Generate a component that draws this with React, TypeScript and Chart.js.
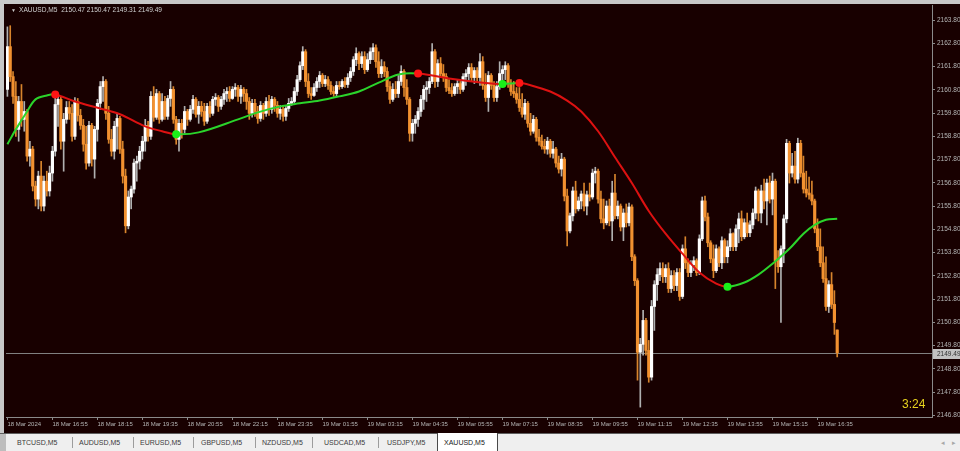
import React, { useEffect, useRef } from 'react';
import { Chart, registerables } from 'chart.js';

Chart.register(...registerables);

// ---------- DATA ----------
const opens = [
  2160.82, 2162.66, 2161.37, 2160.52, 2159.10, 2160.30, 2159.53, 2159.87, 2157.95, 2158.25,
  2156.66, 2156.10, 2157.09, 2155.80, 2156.87, 2156.45, 2157.22, 2158.16, 2160.17, 2160.39,
  2158.59, 2159.53, 2160.04, 2159.79, 2158.80, 2160.30, 2159.70, 2159.27, 2158.46, 2157.65,
  2159.27, 2157.82, 2159.10, 2160.22, 2160.94, 2161.16, 2159.79, 2158.67, 2158.16, 2159.23,
  2159.57, 2158.25, 2157.09, 2154.95, 2156.19, 2156.53, 2157.65, 2157.73, 2158.16, 2158.59,
  2159.27, 2158.80, 2160.52, 2159.62, 2160.64, 2159.53, 2160.30, 2159.66, 2160.43, 2160.82,
  2159.53, 2158.67, 2159.36, 2159.10, 2159.87, 2159.53, 2159.96, 2160.39, 2159.75, 2160.09,
  2159.87, 2159.45, 2160.09, 2159.79, 2160.39, 2160.47, 2160.09, 2160.39, 2160.64, 2160.73,
  2160.43, 2160.82, 2160.90, 2160.52, 2160.82, 2160.64, 2160.30, 2159.79, 2160.22, 2159.87,
  2159.57, 2160.13, 2159.79, 2160.30, 2159.96, 2160.39, 2160.13, 2159.79, 2159.96, 2159.66,
  2160.00, 2160.22, 2160.30, 2160.73, 2161.24, 2161.84, 2162.44, 2161.16, 2160.64, 2160.56,
  2160.90, 2161.16, 2161.42, 2161.07, 2161.24, 2160.99, 2160.73, 2160.64, 2160.99, 2160.94,
  2161.16, 2161.03, 2161.33, 2161.59, 2162.10, 2162.36, 2161.93, 2162.23, 2161.67, 2162.10,
  2162.44, 2162.61, 2162.01, 2161.50, 2161.80, 2161.59, 2160.94, 2160.39, 2160.82, 2160.64,
  2161.16, 2161.59, 2160.90, 2160.39, 2158.93, 2159.36, 2159.53, 2159.87, 2160.39, 2160.82,
  2160.90, 2161.16, 2162.44, 2161.16, 2161.93, 2161.50, 2161.37, 2160.90, 2160.77, 2160.64,
  2160.94, 2161.07, 2160.82, 2161.37, 2161.50, 2161.76, 2161.33, 2161.63, 2161.33, 2162.01,
  2160.99, 2160.47, 2161.42, 2160.99, 2160.47, 2160.94, 2161.50, 2161.67, 2161.84, 2161.07,
  2160.73, 2160.64, 2160.39, 2160.04, 2159.75, 2160.22, 2159.36, 2159.02, 2159.53, 2158.76,
  2158.59, 2158.37, 2158.25, 2158.59, 2158.07, 2158.25, 2157.65, 2157.39, 2157.82, 2156.23,
  2154.73, 2155.38, 2156.45, 2155.68, 2156.02, 2156.32, 2155.80, 2156.28, 2156.19, 2157.22,
  2157.30, 2156.10, 2155.25, 2155.08, 2155.80, 2155.16, 2156.36, 2155.38, 2155.80, 2154.90,
  2155.50, 2155.08, 2155.76, 2153.62, 2152.59, 2149.51, 2149.85, 2150.88, 2149.59, 2148.44,
  2151.48, 2152.42, 2152.85, 2153.11, 2152.76, 2153.11, 2152.25, 2152.81, 2152.38, 2152.94,
  2151.91, 2153.96, 2153.36, 2152.94, 2153.28, 2153.45, 2152.94, 2154.39, 2156.02, 2155.33,
  2154.22, 2153.53, 2153.02, 2153.96, 2153.36, 2154.31, 2153.62, 2154.05, 2154.61, 2154.05,
  2154.82, 2155.25, 2154.48, 2155.08, 2154.65, 2154.99, 2155.50, 2156.45, 2155.50, 2156.45,
  2156.02, 2156.79, 2156.10, 2156.87, 2153.45, 2153.19, 2153.96, 2155.25, 2158.50, 2157.22,
  2157.52, 2156.96, 2158.50, 2157.22, 2156.53, 2156.36, 2156.28, 2156.02, 2154.82, 2154.05,
  2153.36, 2152.68, 2151.48, 2152.42, 2151.57, 2150.47,
];

const highs = [
  2163.51, 2163.56, 2161.59, 2161.16, 2160.52, 2161.03, 2160.30, 2159.96, 2158.59, 2158.37,
  2156.87, 2157.30, 2157.73, 2157.09, 2157.30, 2157.52, 2158.37, 2160.52, 2160.64, 2160.52,
  2159.79, 2160.30, 2160.30, 2160.17, 2160.47, 2160.43, 2159.96, 2159.53, 2159.23, 2159.45,
  2159.36, 2159.23, 2160.39, 2161.16, 2161.37, 2161.24, 2160.09, 2159.10, 2159.45, 2159.79,
  2159.66, 2158.59, 2157.39, 2156.45, 2156.66, 2157.82, 2157.95, 2158.37, 2158.80, 2159.53,
  2159.45, 2160.73, 2160.94, 2160.82, 2160.73, 2160.64, 2160.52, 2160.56, 2161.16, 2160.94,
  2159.66, 2159.53, 2159.53, 2160.09, 2159.96, 2160.13, 2160.56, 2160.47, 2160.30, 2160.30,
  2160.22, 2160.22, 2160.30, 2160.52, 2160.64, 2160.56, 2160.52, 2160.82, 2160.90, 2160.94,
  2160.94, 2161.07, 2160.99, 2160.99, 2160.90, 2160.82, 2160.47, 2160.39, 2160.39, 2160.09,
  2160.30, 2160.22, 2160.47, 2160.56, 2160.52, 2160.47, 2160.30, 2160.13, 2160.13, 2160.13,
  2160.43, 2160.47, 2160.90, 2161.42, 2162.01, 2162.66, 2162.53, 2161.50, 2160.90, 2161.07,
  2161.33, 2161.59, 2161.50, 2161.42, 2161.37, 2161.16, 2160.94, 2161.16, 2161.16, 2161.24,
  2161.33, 2161.50, 2161.76, 2162.23, 2162.61, 2162.44, 2162.44, 2162.44, 2162.36, 2162.61,
  2162.79, 2162.74, 2162.44, 2162.10, 2162.01, 2161.76, 2161.16, 2161.07, 2161.16, 2161.42,
  2161.84, 2161.67, 2161.24, 2160.47, 2159.53, 2159.70, 2160.04, 2160.56, 2160.99, 2161.16,
  2161.33, 2162.79, 2162.53, 2162.10, 2162.19, 2161.89, 2161.50, 2161.24, 2161.07, 2161.07,
  2161.24, 2161.16, 2161.50, 2161.67, 2161.93, 2161.93, 2161.76, 2161.76, 2162.36, 2162.23,
  2161.50, 2161.59, 2161.50, 2161.16, 2161.16, 2162.01, 2161.84, 2162.01, 2161.93, 2161.24,
  2161.16, 2160.90, 2160.90, 2160.64, 2160.39, 2160.30, 2159.79, 2159.70, 2159.62, 2159.10,
  2158.85, 2158.67, 2158.76, 2158.67, 2158.59, 2158.33, 2157.95, 2158.07, 2157.90, 2156.53,
  2155.50, 2156.62, 2156.87, 2156.19, 2156.45, 2156.79, 2156.45, 2156.79, 2157.39, 2157.47,
  2157.39, 2156.45, 2156.10, 2156.02, 2156.10, 2156.87, 2157.17, 2156.02, 2155.89, 2155.68,
  2155.89, 2155.93, 2155.85, 2153.71, 2152.68, 2150.11, 2151.31, 2150.97, 2150.02, 2151.74,
  2152.59, 2153.11, 2153.36, 2153.36, 2153.28, 2153.36, 2153.02, 2153.02, 2153.11, 2153.11,
  2154.13, 2154.48, 2153.53, 2153.45, 2153.62, 2153.53, 2154.56, 2156.19, 2156.23, 2155.50,
  2154.31, 2154.13, 2154.13, 2154.05, 2154.48, 2154.39, 2154.31, 2154.82, 2154.65, 2154.99,
  2155.50, 2155.59, 2155.25, 2155.50, 2155.16, 2155.68, 2156.62, 2156.53, 2156.70, 2156.96,
  2156.96, 2157.09, 2157.22, 2156.96, 2153.88, 2154.09, 2155.42, 2158.67, 2158.59, 2158.07,
  2158.16, 2158.72, 2158.63, 2157.95, 2157.30, 2157.05, 2156.87, 2156.10, 2155.25, 2154.82,
  2154.05, 2153.62, 2152.59, 2152.94, 2152.16, 2150.47,
];

const lows = [
  2160.52, 2161.16, 2160.22, 2158.80, 2158.59, 2159.23, 2159.02, 2157.73, 2157.52, 2156.45,
  2155.80, 2155.68, 2155.59, 2155.59, 2156.23, 2156.23, 2156.87, 2157.95, 2159.23, 2158.25,
  2157.30, 2159.36, 2159.53, 2158.59, 2158.67, 2159.45, 2159.10, 2158.16, 2157.39, 2157.52,
  2157.52, 2157.00, 2158.59, 2159.96, 2160.30, 2159.53, 2158.50, 2157.95, 2157.82, 2158.25,
  2158.07, 2156.79, 2154.65, 2154.82, 2155.68, 2156.36, 2156.87, 2157.39, 2157.82, 2158.16,
  2158.59, 2158.67, 2159.45, 2159.53, 2159.36, 2159.45, 2159.53, 2159.53, 2160.09, 2159.36,
  2158.46, 2158.16, 2158.72, 2158.93, 2159.27, 2159.45, 2159.79, 2159.62, 2159.36, 2159.66,
  2159.27, 2159.36, 2159.62, 2159.70, 2160.13, 2159.87, 2159.96, 2160.17, 2160.30, 2160.30,
  2160.39, 2160.52, 2160.30, 2160.22, 2160.30, 2159.96, 2159.53, 2159.62, 2159.66, 2159.36,
  2159.45, 2159.53, 2159.66, 2159.70, 2159.79, 2159.87, 2159.62, 2159.53, 2159.45, 2159.49,
  2159.87, 2160.13, 2160.22, 2160.56, 2161.16, 2161.67, 2160.94, 2160.47, 2160.39, 2160.52,
  2160.73, 2160.90, 2160.94, 2160.94, 2160.82, 2160.60, 2160.52, 2160.52, 2160.82, 2160.86,
  2160.90, 2160.90, 2161.16, 2161.42, 2161.84, 2161.67, 2161.76, 2161.50, 2161.59, 2161.93,
  2162.10, 2161.76, 2161.33, 2161.33, 2161.37, 2160.73, 2160.22, 2160.30, 2160.47, 2160.47,
  2160.99, 2160.52, 2160.17, 2158.59, 2158.59, 2158.93, 2159.23, 2159.66, 2159.96, 2160.30,
  2160.64, 2161.07, 2160.90, 2160.94, 2161.33, 2161.16, 2160.73, 2160.64, 2160.52, 2160.56,
  2160.64, 2160.64, 2160.73, 2160.99, 2161.16, 2161.16, 2161.07, 2161.16, 2160.99, 2160.82,
  2160.30, 2159.87, 2160.82, 2160.30, 2160.30, 2160.82, 2161.16, 2161.24, 2160.90, 2160.56,
  2160.47, 2160.22, 2159.87, 2159.62, 2159.53, 2159.19, 2158.85, 2158.93, 2158.59, 2158.42,
  2158.25, 2158.07, 2158.03, 2157.90, 2157.86, 2157.47, 2157.22, 2157.09, 2156.02, 2154.09,
  2154.65, 2155.16, 2155.50, 2155.59, 2155.68, 2155.59, 2155.42, 2156.02, 2156.10, 2156.79,
  2155.93, 2155.08, 2154.82, 2154.99, 2154.95, 2154.31, 2155.25, 2155.25, 2154.73, 2154.31,
  2154.90, 2154.95, 2153.45, 2152.38, 2148.31, 2147.15, 2149.38, 2149.38, 2148.22, 2148.31,
  2150.45, 2151.74, 2152.59, 2152.51, 2152.51, 2152.08, 2152.08, 2152.16, 2152.16, 2151.74,
  2151.82, 2153.11, 2152.76, 2152.76, 2153.02, 2152.81, 2152.85, 2154.31, 2155.16, 2154.05,
  2153.36, 2152.72, 2152.94, 2153.19, 2153.11, 2153.36, 2153.36, 2153.88, 2153.88, 2153.88,
  2154.22, 2154.31, 2154.39, 2154.48, 2154.48, 2154.82, 2155.25, 2155.16, 2155.08, 2155.68,
  2154.99, 2155.93, 2155.42, 2152.25, 2152.94, 2150.79, 2153.36, 2155.08, 2156.79, 2157.05,
  2156.79, 2156.79, 2157.05, 2156.36, 2156.19, 2156.10, 2155.85, 2154.65, 2153.88, 2153.19,
  2152.51, 2151.31, 2151.22, 2151.39, 2150.28, 2149.31,
];

const closes = [
  2162.66, 2161.37, 2160.52, 2159.10, 2160.30, 2159.53, 2159.87, 2157.95, 2158.25, 2156.66,
  2156.10, 2157.09, 2155.80, 2156.87, 2156.45, 2157.22, 2158.16, 2160.17, 2160.39, 2158.59,
  2159.53, 2160.04, 2159.79, 2158.80, 2160.30, 2159.70, 2159.27, 2158.46, 2157.65, 2159.27,
  2157.82, 2159.10, 2160.22, 2160.94, 2161.16, 2159.79, 2158.67, 2158.16, 2159.23, 2159.57,
  2158.25, 2157.09, 2154.95, 2156.19, 2156.53, 2157.65, 2157.73, 2158.16, 2158.59, 2159.27,
  2158.80, 2160.52, 2159.62, 2160.64, 2159.53, 2160.30, 2159.66, 2160.43, 2160.82, 2159.53,
  2158.67, 2159.36, 2159.10, 2159.87, 2159.53, 2159.96, 2160.39, 2159.75, 2160.09, 2159.87,
  2159.45, 2160.09, 2159.79, 2160.39, 2160.47, 2160.09, 2160.39, 2160.64, 2160.73, 2160.43,
  2160.82, 2160.90, 2160.52, 2160.82, 2160.64, 2160.30, 2159.79, 2160.22, 2159.87, 2159.57,
  2160.13, 2159.79, 2160.30, 2159.96, 2160.39, 2160.13, 2159.79, 2159.96, 2159.66, 2160.00,
  2160.22, 2160.30, 2160.73, 2161.24, 2161.84, 2162.44, 2161.16, 2160.64, 2160.56, 2160.90,
  2161.16, 2161.42, 2161.07, 2161.24, 2160.99, 2160.73, 2160.64, 2160.99, 2160.94, 2161.16,
  2161.03, 2161.33, 2161.59, 2162.10, 2162.36, 2161.93, 2162.23, 2161.67, 2162.10, 2162.44,
  2162.61, 2162.01, 2161.50, 2161.80, 2161.59, 2160.94, 2160.39, 2160.82, 2160.64, 2161.16,
  2161.59, 2160.90, 2160.39, 2158.93, 2159.36, 2159.53, 2159.87, 2160.39, 2160.82, 2160.90,
  2161.16, 2162.44, 2161.16, 2161.93, 2161.50, 2161.37, 2160.90, 2160.77, 2160.64, 2160.94,
  2161.07, 2160.82, 2161.37, 2161.50, 2161.76, 2161.33, 2161.63, 2161.33, 2162.01, 2160.99,
  2160.47, 2161.42, 2160.99, 2160.47, 2160.94, 2161.50, 2161.67, 2161.84, 2161.07, 2160.73,
  2160.64, 2160.39, 2160.04, 2159.75, 2160.22, 2159.36, 2159.02, 2159.53, 2158.76, 2158.59,
  2158.37, 2158.25, 2158.59, 2158.07, 2158.25, 2157.65, 2157.39, 2157.82, 2156.23, 2154.73,
  2155.38, 2156.45, 2155.68, 2156.02, 2156.32, 2155.80, 2156.28, 2156.19, 2157.22, 2157.30,
  2156.10, 2155.25, 2155.08, 2155.80, 2155.16, 2156.36, 2155.38, 2155.80, 2154.90, 2155.50,
  2155.08, 2155.76, 2153.62, 2152.59, 2149.51, 2149.85, 2150.88, 2149.59, 2148.44, 2151.48,
  2152.42, 2152.85, 2153.11, 2152.76, 2153.11, 2152.25, 2152.81, 2152.38, 2152.94, 2151.91,
  2153.96, 2153.36, 2152.94, 2153.28, 2153.45, 2152.94, 2154.39, 2156.02, 2155.33, 2154.22,
  2153.53, 2153.02, 2153.96, 2153.36, 2154.31, 2153.62, 2154.05, 2154.61, 2154.05, 2154.82,
  2155.25, 2154.48, 2155.08, 2154.65, 2154.99, 2155.50, 2156.45, 2155.50, 2156.45, 2156.02,
  2156.79, 2156.10, 2156.87, 2153.45, 2153.19, 2153.96, 2155.25, 2158.50, 2157.22, 2157.52,
  2156.96, 2158.50, 2157.22, 2156.53, 2156.36, 2156.28, 2156.02, 2154.82, 2154.05, 2153.36,
  2152.68, 2151.48, 2152.42, 2151.57, 2150.79, 2149.49,
];

// Moving-average anchor points (bar index, value)
const maIndex = [
  0, 3, 7, 10, 14, 17, 24, 33, 40, 49, 55, 60, 68, 82, 89, 97, 104, 111, 118, 125, 132, 139, 146,
  157, 169, 176, 182, 186, 193, 199, 204, 210, 216, 222, 228, 234, 240, 246, 252, 256, 262, 267,
  272, 278, 283, 287, 291, 295,
];
const maValue = [
  2158.46, 2159.10, 2159.87, 2160.39, 2160.56, 2160.60, 2160.30, 2160.00, 2159.75, 2159.23, 2159.02,
  2158.89, 2158.97, 2159.53, 2159.83, 2160.09, 2160.22, 2160.34, 2160.52, 2160.73, 2161.11, 2161.46,
  2161.50, 2161.29, 2161.11, 2161.05, 2161.09, 2161.00, 2160.73, 2160.34, 2159.87, 2159.02, 2157.90,
  2156.79, 2155.59, 2154.61, 2153.75, 2152.94, 2152.46, 2152.33, 2152.51, 2152.85, 2153.32, 2153.96,
  2154.61, 2154.99, 2155.21, 2155.25,
];
const turnDown = [17, 146, 182];
const turnUp = [60, 176, 256];

const yTicks = [
  2146.8, 2147.8, 2148.8, 2149.8, 2150.8, 2151.8, 2152.8, 2153.8, 2154.8,
  2155.8, 2156.8, 2157.8, 2158.8, 2159.8, 2160.8, 2161.8, 2162.8, 2163.8,
];
const xTickIndex = [0, 16, 32, 48, 64, 80, 96, 112, 128, 144, 160, 176, 192, 208, 224, 240, 256, 272, 288];
const xTickLabels = [
  '18 Mar 2024', '18 Mar 16:55', '18 Mar 18:15', '18 Mar 19:35', '18 Mar 20:55', '18 Mar 22:15',
  '18 Mar 23:35', '19 Mar 01:55', '19 Mar 03:15', '19 Mar 04:35', '19 Mar 05:55', '19 Mar 07:15',
  '19 Mar 08:35', '19 Mar 09:55', '19 Mar 11:15', '19 Mar 12:35', '19 Mar 13:55', '19 Mar 15:15',
  '19 Mar 16:35',
];
const symbolName = 'XAUUSD,M5';
const timerText = '3:24';
const tabs = ['BTCUSD,M5', 'AUDUSD,M5', 'EURUSD,M5', 'GBPUSD,M5', 'NZDUSD,M5', 'USDCAD,M5', 'USDJPY,M5', 'XAUUSD,M5'];

// ---------- STYLE / LAYOUT ----------
const BG = '#180000';
const AXIS = '#8a8a8a';
const TICK_TEXT = '#b4b4b4';
const FONT = '"Liberation Sans", Arial, sans-serif';
const BULL_BODY = '#ffffff';
const BEAR_BODY = '#f29130';
const BULL_WICK = '#b0b0b0';
const BEAR_WICK = '#d8842c';
const MA_UP = '#2bd42b';
const MA_DOWN = '#dd1111';
const DOT_UP = '#19f019';
const DOT_DOWN = '#ff1414';
const tabTextLeft = [17, 79, 140, 201, 262, 324, 387, 443];
const tabSeparators = [72, 133, 193, 255, 312, 378];

const frame = {
  id: 'mtFrame',
  beforeDraw(chart: any) {
    const { ctx } = chart;
    ctx.save();
    ctx.fillStyle = BG;
    ctx.fillRect(4, 4, chart.width - 4, chart.height - 4);
    ctx.restore();
  },
  beforeDatasetsDraw(chart: any) {
    const { ctx, chartArea, scales } = chart;
    const last = closes[closes.length - 1];
    const y = Math.round(scales.y.getPixelForValue(last)) + 0.5;
    ctx.save();
    ctx.strokeStyle = '#808080';
    ctx.lineWidth = 1;
    ctx.beginPath();
    ctx.moveTo(chartArea.left, y);
    ctx.lineTo(chartArea.right, y);
    ctx.stroke();
    ctx.restore();
  },
  afterDraw(chart: any) {
    const { ctx, chartArea, scales } = chart;
    const last = closes[closes.length - 1];
    const y = Math.round(scales.y.getPixelForValue(last));
    ctx.save();
    ctx.fillStyle = '#c2c2c2';
    ctx.fillRect(chartArea.right + 1, y - 4, 28, 10);
    ctx.fillStyle = '#303030';
    ctx.font = `6.5px ${FONT}`;
    ctx.textBaseline = 'middle';
    ctx.textAlign = 'left';
    ctx.fillText(last.toFixed(2), chartArea.right + 5, y + 1);
    ctx.restore();
  },
};

export default function App() {
  const canvasRef = useRef<HTMLCanvasElement | null>(null);

  useEffect(() => {
    document.body.style.margin = '0';
    const canvas = canvasRef.current;
    if (!canvas) return;

    const bull = closes.map((c, i) => c >= opens[i]);
    const wickData = closes.map((_, i) => ({ x: i, y: [lows[i], highs[i]] }));
    const bodyData = closes.map((c, i) => ({ x: i, y: [Math.min(opens[i], c), Math.max(opens[i], c)] }));
    const maData = maIndex.map((x, k) => ({ x, y: maValue[k] }));
    const dotIdx = [...turnDown, ...turnUp];
    const dotData = dotIdx.map((x) => ({ x, y: maValue[maIndex.indexOf(x)] }));
    const dotColors = [...turnDown.map(() => DOT_DOWN), ...turnUp.map(() => DOT_UP)];

    const chart = new Chart(canvas, {
      type: 'bar',
      data: {
        datasets: [
          {
            type: 'line',
            data: dotData,
            showLine: false,
            pointRadius: 4,
            pointBackgroundColor: dotColors,
            pointBorderColor: dotColors,
            pointBorderWidth: 0,
            order: 0,
          } as any,
          {
            type: 'line',
            data: maData,
            borderWidth: 2,
            pointRadius: 0,
            tension: 0.35,
            borderColor: MA_UP,
            segment: {
              borderColor: (ctx: any) => (ctx.p1.parsed.y >= ctx.p0.parsed.y ? MA_UP : MA_DOWN),
            },
            order: 1,
          } as any,
          {
            type: 'bar',
            data: bodyData,
            backgroundColor: bull.map((b) => (b ? BULL_BODY : BEAR_BODY)),
            borderWidth: 0,
            barThickness: 2.5,
            grouped: false,
            minBarLength: 1,
            order: 2,
          } as any,
          {
            type: 'bar',
            data: wickData,
            backgroundColor: bull.map((b) => (b ? BULL_WICK : BEAR_WICK)),
            borderWidth: 0,
            barThickness: 1,
            grouped: false,
            order: 3,
          } as any,
        ],
      },
      options: {
        responsive: false,
        animation: false,
        events: [],
        devicePixelRatio: 1,
        layout: { padding: { left: 6, top: 4, right: 0, bottom: 0 } },
        plugins: {
          legend: { display: false },
          tooltip: { enabled: false },
        },
        scales: {
          x: {
            type: 'linear',
            min: -0.5,
            max: 328.7,
            offset: false,
            afterBuildTicks: (s: any) => {
              s.ticks = xTickIndex.map((v) => ({ value: v }));
            },
            afterFit: (s: any) => {
              s.height = 16;
            },
            grid: { display: true, offset: false, drawOnChartArea: false, drawTicks: true, tickLength: 3, color: AXIS },
            border: { display: true, color: AXIS },
            ticks: {
              autoSkip: false,
              maxRotation: 0,
              minRotation: 0,
              align: 'start',
              padding: 1,
              color: TICK_TEXT,
              font: { family: FONT, size: 6 },
              callback: (v: any) => {
                const k = xTickIndex.indexOf(Number(v));
                return k >= 0 ? xTickLabels[k] : '';
              },
            },
          },
          y: {
            type: 'linear',
            position: 'right',
            min: 2146.725,
            max: 2164.412,
            beginAtZero: false,
            afterBuildTicks: (s: any) => {
              s.ticks = yTicks.map((v) => ({ value: v }));
            },
            afterFit: (s: any) => {
              s.width = 28;
            },
            grid: { drawOnChartArea: false, drawTicks: true, tickLength: 3, color: AXIS },
            border: { display: true, color: AXIS },
            ticks: {
              autoSkip: false,
              padding: 2,
              color: TICK_TEXT,
              font: { family: FONT, size: 6.5 },
              callback: (v: any) => Number(v).toFixed(2),
            },
          },
        },
      } as any,
      plugins: [frame],
    });

    return () => chart.destroy();
  }, []);

  const n = closes.length - 1;
  const header = `${symbolName}  ${opens[n].toFixed(2)} ${highs[n].toFixed(2)} ${lows[n].toFixed(2)} ${closes[n].toFixed(2)}`;

  return (
    <div
      style={{
        position: 'fixed',
        left: 0,
        top: 0,
        width: 960,
        height: 451,
        background: '#c8c8c8',
        overflow: 'hidden',
        fontFamily: FONT,
      }}
    >
      <canvas
        ref={canvasRef}
        width={960}
        height={433}
        style={{ position: 'absolute', left: 0, top: 0, width: 960, height: 433 }}
      />
      <div
        style={{
          position: 'absolute',
          left: 11,
          top: 6,
          fontSize: 5,
          lineHeight: '8px',
          color: '#c8c8c8',
        }}
      >
        ▼
      </div>
      <div
        style={{
          position: 'absolute',
          left: 19,
          top: 5,
          fontSize: 6.6,
          lineHeight: '9px',
          color: '#cfcfcf',
          whiteSpace: 'pre',
        }}
      >
        {header}
      </div>
      <div
        style={{
          position: 'absolute',
          left: 902,
          top: 397,
          fontSize: 12,
          lineHeight: '14px',
          color: '#e6d21e',
        }}
      >
        {timerText}
      </div>
      <div
        style={{
          position: 'absolute',
          left: 0,
          top: 433,
          width: 960,
          height: 18,
          background: '#efefef',
          borderTop: '1px solid #5e5e5e',
          boxSizing: 'border-box',
        }}
      >
        <div style={{ position: 'absolute', left: 0, top: 0, width: 6, height: 18, background: '#bdbdbd' }} />
        {tabs.map((t, k) =>
          t === symbolName ? null : (
            <span
              key={t}
              style={{
                position: 'absolute',
                left: tabTextLeft[k],
                top: 4,
                fontSize: 7,
                lineHeight: '9px',
                color: '#3c3c3c',
                whiteSpace: 'pre',
              }}
            >
              {t}
            </span>
          )
        )}
        {tabSeparators.map((x) => (
          <div key={x} style={{ position: 'absolute', left: x, top: 3, width: 1, height: 11, background: '#9c9c9c' }} />
        ))}
        {tabs.map((t, k) =>
          t === symbolName ? (
            <div
              key={t}
              style={{
                position: 'absolute',
                left: 437,
                top: -1,
                width: 61,
                height: 18,
                background: '#ffffff',
                borderLeft: '1px solid #4a4a4a',
                borderRight: '1px solid #4a4a4a',
                boxSizing: 'border-box',
              }}
            >
              <span
                style={{
                  position: 'absolute',
                  left: tabTextLeft[k] - 437,
                  top: 5,
                  fontSize: 7,
                  lineHeight: '9px',
                  color: '#202020',
                  whiteSpace: 'pre',
                }}
              >
                {t}
              </span>
            </div>
          ) : null
        )}
        <span style={{ position: 'absolute', left: 941, top: 4, fontSize: 7, lineHeight: '9px', color: '#a8a8a8' }}>◂</span>
        <span style={{ position: 'absolute', left: 952, top: 4, fontSize: 7, lineHeight: '9px', color: '#a8a8a8' }}>▸</span>
      </div>
    </div>
  );
}
